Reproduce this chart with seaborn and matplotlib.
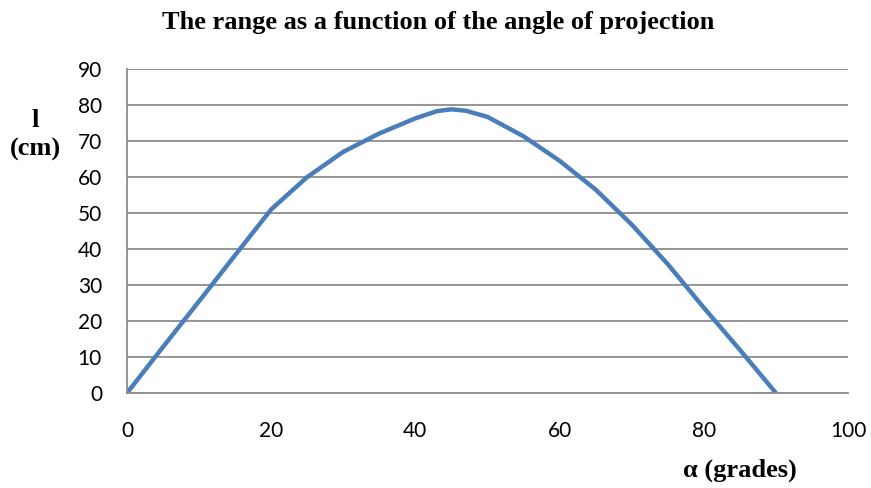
import numpy as np
import pandas as pd
import matplotlib
matplotlib.use("Agg")
import matplotlib.pyplot as plt
import seaborn as sns

# angle of projection (grades) and measured range (cm)
angle = [0, 5, 10, 15, 20, 25, 30, 35, 40, 43, 45, 47, 50, 55, 60, 65, 70, 75, 80, 85, 90]
range_cm = [0, 12.8, 25.5, 38.3, 51, 60, 67, 72.1, 76.3, 78.3, 78.8, 78.4, 76.7, 71.3,
            64.5, 56.5, 46.8, 35.8, 23.7, 12, 0]
x_ticks = [0, 20, 40, 60, 80, 100]
y_ticks = [0, 10, 20, 30, 40, 50, 60, 70, 80, 90]

df = pd.DataFrame({"angle": angle, "range": range_cm})

sns.set_style("white")
plt.rcParams['font.family'] = ['Lato', 'DejaVu Sans']

fig = plt.figure(figsize=(8.71, 4.88), dpi=100)
ax = fig.add_axes([127 / 871, 1 - 393 / 488, (848 - 127) / 871, (393 - 69) / 488])

sns.lineplot(data=df, x="angle", y="range", ax=ax, color="#4A7EBB", linewidth=3.2,
             solid_capstyle="butt", solid_joinstyle="round")

ax.set_xlim(0, 100)
ax.set_ylim(0, 90)
ax.set_xticks(x_ticks)
ax.set_yticks(y_ticks)
ax.yaxis.grid(True, color="#8c8c8c", linewidth=1.3)
ax.xaxis.grid(False)
for s in ["top", "right"]:
    ax.spines[s].set_visible(False)
for s in ["left", "bottom"]:
    ax.spines[s].set_color("#8c8c8c")
    ax.spines[s].set_linewidth(1.3)
ax.tick_params(axis="both", direction="out", length=6, width=1.3, color="#8c8c8c",
               labelsize=15, labelcolor="black")
ax.tick_params(axis="y", pad=12)
ax.tick_params(axis="x", pad=14)
ax.set_xlabel("")
ax.set_ylabel("")

serif = dict(family="Liberation Serif", fontweight="bold", color="black")
fig.text(438 / 871, 1 - 22 / 488, "The range as a function of the angle of projection",
         ha="center", va="center", fontsize=19, **serif)
fig.text(35 / 871, 1 - 135 / 488, "l\n(cm)", ha="center", va="center", fontsize=19,
         linespacing=1.35, **serif)
fig.text(740 / 871, 1 - 470 / 488, "α (grades)", ha="center", va="center",
         fontsize=19, **serif)

fig.savefig("out.png", dpi=100)
